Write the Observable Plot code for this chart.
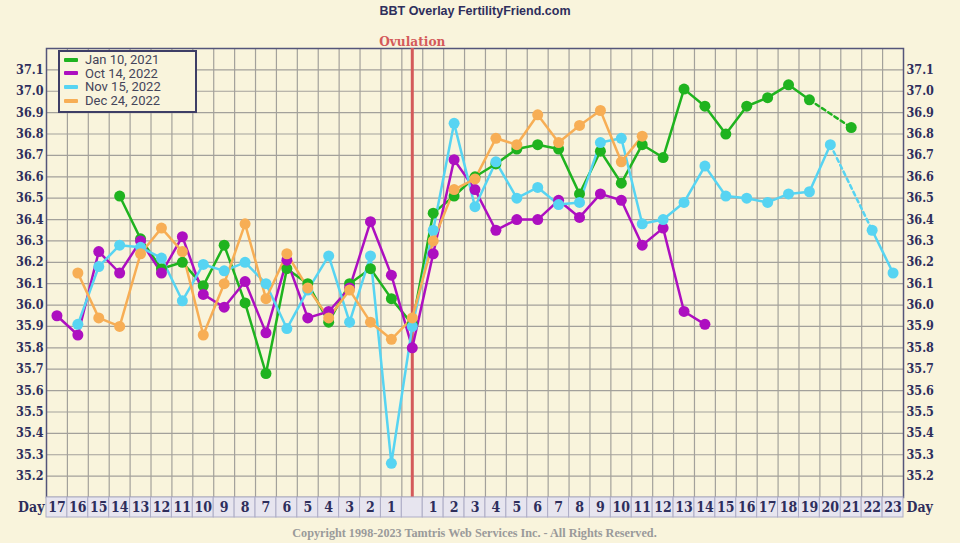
<!DOCTYPE html>
<html>
<head>
<meta charset="utf-8">
<script src="https://cdn.jsdelivr.net/npm/d3@7"></script>
<script src="https://cdn.jsdelivr.net/npm/@observablehq/plot@0.6"></script>
<style>
  html, body { margin: 0; padding: 0; background: #f9f4dc; }
  #wrap { position: relative; width: 960px; height: 543px; overflow: hidden; background: #f9f4dc; }
  #main { position: absolute; left: 0; top: 0; }
  #strip { position: absolute; left: 0; top: 496px; }
  #legend { position: absolute; left: 58px; top: 50px; width: 135px; height: 58px; border: 2px solid #3e3e66;
            background: #f9f4dc; font: 13px Roboto, "Liberation Sans", sans-serif; color: #45455a; padding-top: 1px; box-sizing: content-box; }
  #legend .row { height: 13.6px; line-height: 13.6px; display: flex; align-items: center; white-space: nowrap; }
  #legend .sw { width: 14px; height: 4px; margin-left: 4px; margin-right: 7px; border-radius: 1px; }
  #copy { position: absolute; left: 46px; width: 857px; top: 526px; text-align: center;
          font: bold 12.2px "Liberation Serif", "DejaVu Serif", serif; color: #9a9a9a; }
</style>
</head>
<body>
<div id="wrap">
  <div id="main"></div>
  <div id="strip"></div>
  <div id="legend"></div>
  <div id="copy">Copyright 1998-2023 Tamtris Web Services Inc. - All Rights Reserved.</div>
</div>
<script>
// Column positions: -17..-1 = days before ovulation (17..1), 0 = ovulation, 1..23 = days after
const positions = d3.range(-17, 24);
const dayLabels = positions.map(p => p === 0 ? "" : String(Math.abs(p)));
const yTicks = d3.range(352, 372).map(d => d / 10); // 35.2 .. 37.1

const seriesNames = ["Jan 10, 2021", "Oct 14, 2022", "Nov 15, 2022", "Dec 24, 2022"];
const seriesColors = ["#1fb31f", "#ad0fc0", "#57d4f2", "#f7ae55"];

// temperatures, one per column (day 17 pre ... ovulation ... day 23 post)
const jan10_2021 = [
  null, null, null, 36.51, 36.31, 36.17, 36.20, 36.09, 36.28, 36.01, 35.68, 36.17, 36.10, 35.92, 36.10, 36.17, 36.03,
  35.91,
  36.43, 36.51, 36.60, 36.66, 36.73, 36.75, 36.73, 36.52, 36.72, 36.57, 36.75, 36.69, 37.01, 36.93, 36.80, 36.93, 36.97, 37.03, 36.96, null, 36.83, null, null
];
const oct14_2022 = [
  35.95, 35.86, 36.25, 36.15, 36.30, 36.15, 36.32, 36.05, 35.99, 36.11, 35.87, 36.21, 35.94, 35.97, 36.08, 36.39, 36.14,
  35.80,
  36.24, 36.68, 36.54, 36.35, 36.40, 36.40, 36.49, 36.41, 36.52, 36.49, 36.28, 36.36, 35.97, 35.91, null, null, null, null, null, null, null, null, null
];
const nov15_2022 = [
  null, 35.91, 36.18, 36.28, 36.27, 36.22, 36.02, 36.19, 36.16, 36.20, 36.10, 35.89, 36.07, 36.23, 35.92, 36.23, 35.26,
  35.90,
  36.35, 36.85, 36.46, 36.67, 36.50, 36.55, 36.47, 36.48, 36.76, 36.78, 36.38, 36.40, 36.48, 36.65, 36.51, 36.50, 36.48, 36.52, 36.53, 36.75, null, 36.35, 36.15
];
const dec24_2022 = [
  null, 36.15, 35.94, 35.90, 36.24, 36.36, 36.25, 35.86, 36.10, 36.38, 36.03, 36.24, 36.08, 35.94, 36.07, 35.92, 35.84,
  35.94,
  36.30, 36.54, 36.59, 36.78, 36.75, 36.89, 36.76, 36.84, 36.91, 36.67, 36.79, null, null, null, null, null, null, null, null, null, null, null, null
];
const seriesValues = [jan10_2021, oct14_2022, nov15_2022, dec24_2022];

// build tidy rows
const rows = [];
seriesNames.forEach((name, s) => {
  positions.forEach((p, i) => rows.push({series: name, pos: p, temp: seriesValues[s][i]}));
});
// dashed bridges across interior gaps
const bridges = [];
seriesNames.forEach((name, s) => {
  const vals = seriesValues[s];
  const defined = positions.map((p, i) => i).filter(i => vals[i] != null);
  for (let k = 1; k < defined.length; k++) {
    const a = defined[k - 1], b = defined[k];
    if (b - a > 1) {
      const id = name + "-" + a;
      bridges.push({series: name, id, pos: positions[a], temp: vals[a]});
      bridges.push({series: name, id, pos: positions[b], temp: vals[b]});
    }
  }
});
const dots = rows.filter(d => d.temp != null);

const xDomain = [d3.min(positions) - 0.5, d3.max(positions) + 0.5];
const colorScale = {domain: seriesNames, range: seriesColors};
const navy = "#2e2e5c";
const axisFont = "'DejaVu Serif Condensed', 'DejaVu Serif', serif";

const main = Plot.plot({
  width: 960, height: 497,
  marginTop: 48, marginBottom: 0, marginLeft: 46, marginRight: 57,
  x: {domain: xDomain, axis: null},
  y: {domain: [35.1, 37.2], axis: null},
  color: colorScale,
  style: {background: "transparent", fontFamily: axisFont, fontSize: "12.5px", fontWeight: "bold", color: navy, overflow: "visible"},
  marks: [
    Plot.ruleY(yTicks, {stroke: "#a3a19b", strokeWidth: 1.2}),
    Plot.ruleX(positions.slice(1).map(p => p - 0.5), {stroke: "#a3a19b", strokeWidth: 1.2}),
    Plot.frame({stroke: "#55557a", strokeWidth: 1.5}),
    Plot.ruleX([0], {stroke: "#d45a5a", strokeWidth: 3}),
    Plot.axisY(yTicks, {anchor: "left", label: null, tickSize: 0, tickPadding: 3, tickFormat: d => d.toFixed(1)}),
    Plot.axisY(yTicks, {anchor: "right", label: null, tickSize: 0, tickPadding: 3, tickFormat: d => d.toFixed(1)}),
    Plot.line(bridges, {x: "pos", y: "temp", z: "id", stroke: "series", strokeWidth: 2.5, strokeDasharray: "4,3.5"}),
    Plot.line(rows, {x: "pos", y: "temp", z: "series", stroke: "series", strokeWidth: 2.5}),
    Plot.dot(dots, {x: "pos", y: "temp", fill: "series", r: 5.5, stroke: null}),
    Plot.text([0], {x: d => d, frameAnchor: "top", dy: -12, text: () => "Ovulation", fill: "#d45a5a",
      fontFamily: "'DejaVu Serif Condensed', 'DejaVu Serif', serif", fontSize: 13.5, fontWeight: "bold"}),
    Plot.text(["BBT Overlay FertilityFriend.com"], {frameAnchor: "top", dy: -42, text: d => d, fill: navy,
      fontFamily: "'Liberation Sans', Arial, sans-serif", fontSize: 12.5, fontWeight: "bold"})
  ]
});
document.getElementById("main").appendChild(main);

const strip = Plot.plot({
  width: 960, height: 22,
  marginTop: 1, marginBottom: 1, marginLeft: 46, marginRight: 57,
  x: {domain: xDomain, axis: null},
  style: {background: "transparent", fontFamily: axisFont, fontSize: "14px", fontWeight: "bold", color: navy, overflow: "visible"},
  marks: [
    Plot.rect(positions, {x1: p => p - 0.5, x2: p => p + 0.5, fill: "#e7e5ef", stroke: "#aeadc6", strokeWidth: 1}),
    Plot.text(positions, {x: p => p, text: (p, i) => dayLabels[i], frameAnchor: "middle", fill: navy}),
    Plot.text(["Day"], {x: () => xDomain[0], text: d => d, frameAnchor: "middle", textAnchor: "end", dx: -2, fill: navy}),
    Plot.text(["Day"], {x: () => xDomain[1], text: d => d, frameAnchor: "middle", textAnchor: "start", dx: 3, fill: navy})
  ]
});
document.getElementById("strip").appendChild(strip);

const legend = document.getElementById("legend");
seriesNames.forEach((name, i) => {
  const row = document.createElement("div");
  row.className = "row";
  const sw = document.createElement("span");
  sw.className = "sw";
  sw.style.background = seriesColors[i];
  const t = document.createElement("span");
  t.textContent = name;
  row.appendChild(sw); row.appendChild(t);
  legend.appendChild(row);
});
</script>
</body>
</html>
